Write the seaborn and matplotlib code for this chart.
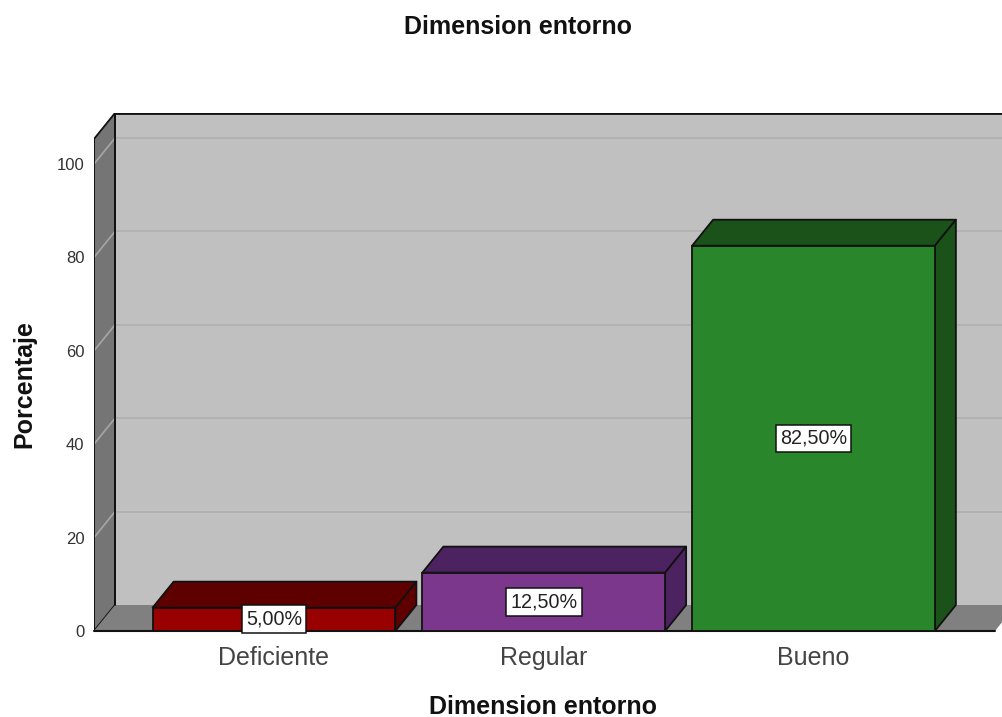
import matplotlib
matplotlib.use("Agg")
import matplotlib.pyplot as plt
from matplotlib.patches import Polygon
import seaborn as sns

categorias = ["Deficiente", "Regular", "Bueno"]
porcentajes = [5.0, 12.5, 82.5]
etiquetas = ["5,00%", "12,50%", "82,50%"]
yticks = [0, 20, 40, 60, 80, 100]

frente = ["#990000", "#7a378b", "#2a862a"]
techo = ["#5f0000", "#4c2260", "#1a521a"]
lado = ["#5f0000", "#4c2260", "#1a521a"]

W, H = 1002, 717
sns.set_theme(style="white")
plt.rcParams["font.family"] = ["Liberation Sans", "DejaVu Sans"]

fig = plt.figure(figsize=(W / 100, H / 100), dpi=100)
ax = fig.add_axes([94 / W, 1 - 631 / H, (W - 94) / W, (631 - 113) / H])

# escala en pixeles: 269.75 px por categoria, 4.67 px por punto
ax.set_xlim(-180 / 269.75, 2 + 188.5 / 269.75)
ax.set_ylim(0, 518 / 4.67)
dx = 21 / 269.75
dy = 26 / 4.67
x0, x1 = ax.get_xlim()
ytop = ax.get_ylim()[1]
xfin = x0 + 901 / 269.75


def cara(puntos, color, z, borde="#111111", lw=1.3):
    ax.add_patch(Polygon(puntos, closed=True, facecolor=color, edgecolor=borde,
                         linewidth=lw, zorder=z, joinstyle="round"))


# paredes y piso
cara([(x0 + dx, dy), (xfin + dx, dy), (xfin + dx, ytop), (x0 + dx, ytop)], "#c0c0c0", 0.5, borde="none")
cara([(x0, 0), (x0 + dx, dy), (x0 + dx, ytop), (x0, ytop - dy)], "#757575", 0.6)
cara([(x0, 0), (xfin, 0), (xfin + dx, dy), (x0 + dx, dy)], "#808080", 0.6, borde="none")
ax.plot([x0 + dx, x0 + dx], [dy, ytop], color="#111111", lw=1.4, zorder=0.7)
ax.plot([x0 + dx, x1 + dx], [ytop, ytop], color="#111111", lw=2.0, zorder=0.7)
ax.plot([x0, xfin], [0, 0], color="#111111", lw=1.5, zorder=0.7, clip_on=False)
ax.plot([x0, x0], [0, ytop - dy], color="#111111", lw=1.4, zorder=0.7)
for t in yticks[1:]:
    ax.plot([x0, x0 + dx], [t, t + dy], color="#a6a6a6", lw=1.2, zorder=0.65)
    ax.plot([x0 + dx, x1 + dx], [t + dy, t + dy], color="#b2b2b2", lw=1.4, zorder=0.65)

sns.barplot(x=categorias, y=porcentajes, hue=categorias, palette=frente, saturation=1,
            width=0.9, dodge=False, legend=False, edgecolor="#111111", linewidth=1.3,
            zorder=2, ax=ax)
ax.set_xlim(x0, x1)
ax.set_ylim(0, ytop)

barras = [b for cont in ax.containers for b in cont]
for barra, c_techo, c_lado, txt in zip(barras, techo, lado, etiquetas):
    a = barra.get_x()
    b = a + barra.get_width()
    h = barra.get_height()
    cara([(a, h), (b, h), (b + dx, h + dy), (a + dx, h + dy)], c_techo, 1.5)
    cara([(b, 0), (b + dx, dy), (b + dx, h + dy), (b, h)], c_lado, 1.5)
    ax.text(a + barra.get_width() / 2, h / 2, txt, ha="center", va="center",
            fontsize=14.2, color="#222222", zorder=5,
            bbox=dict(boxstyle="square,pad=0.22", facecolor="white", edgecolor="#111111", linewidth=1.1))

for s in ax.spines.values():
    s.set_visible(False)
ax.set_yticks(yticks)
ax.tick_params(axis="y", length=0, labelsize=12, pad=7, labelcolor="#333333")
ax.tick_params(axis="x", length=0, labelsize=18, pad=10.5, labelcolor="#444444")
ax.set_xlabel("")
ax.set_ylabel("")

fig.text(518 / W, 1 - 27 / H, "Dimension entorno", ha="center", va="center",
         fontsize=18, fontweight="bold", color="#111111")
fig.text(543 / W, 1 - 707 / H, "Dimension entorno", ha="center", va="center",
         fontsize=18, fontweight="bold", color="#111111")
fig.text(24.5 / W, 1 - 384 / H, "Porcentaje", ha="center", va="center", rotation=90,
         fontsize=18, fontweight="bold", color="#111111")

fig.savefig("out.png", dpi=100)
